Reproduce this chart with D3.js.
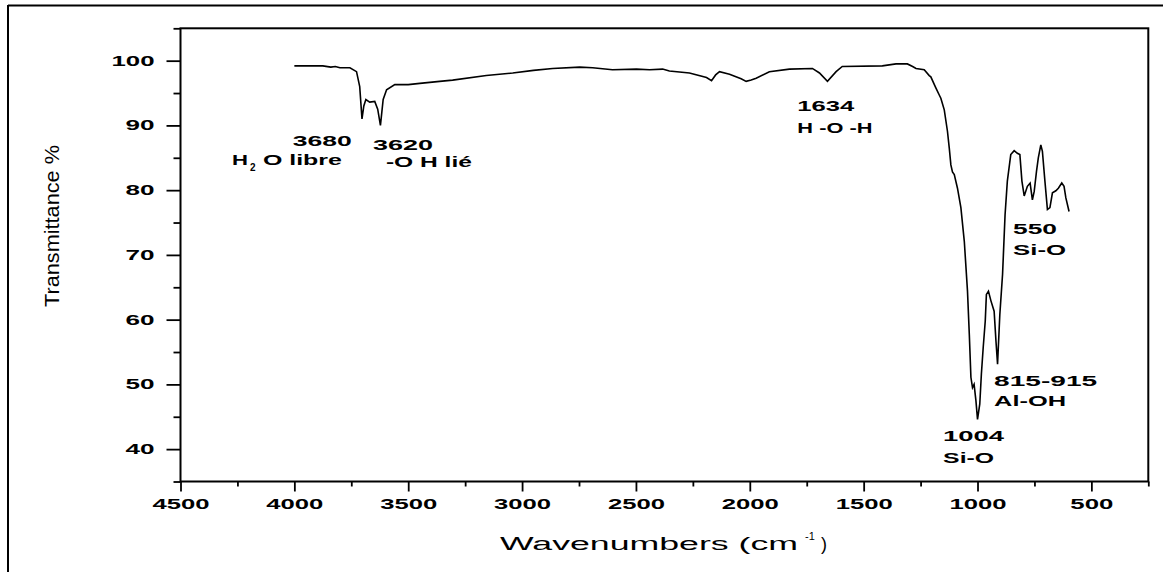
<!DOCTYPE html>
<html><head><meta charset="utf-8">
<script src="https://cdn.jsdelivr.net/npm/d3@7"></script>
<style>
html,body{margin:0;padding:0;background:#fff;}
svg{display:block;}
text{font-family:"Liberation Sans",Arial,sans-serif;fill:#000;}
</style></head>
<body>
<svg id="chart" width="1163" height="572"></svg>
<script>
// ---- data ----
const wavenumbers = [4000,3950,3875,3840,3820,3800,3756,3727,3713,3703,3695,3686,3669,3647,3634,3622,3610,3595,3559,3500,3449,3362,3305,3157,3041,2950,2866,2747,2690,2603,2498,2440,2383,2353,2265,2190,2168,2150,2133,2089,2038,2016,1994,1972,1914,1826,1725,1694,1659,1621,1594,1418,1358,1308,1285,1270,1234,1212,1205,1183,1168,1161,1146,1132,1124,1117,1110,1102,1088,1073,1058,1044,1036,1029,1022,1015,1007,1000,990,983,975,966,961,952,941,927,919,912,902,890,879,869,854,839,825,814,805,795,781,769,759,751,741,733,722,715,704,693,682,671,656,645,630,620,612,598];
const transmittance = [99.2,99.2,99.2,99.0,99.1,98.9,98.9,98.3,96.0,91.0,93.0,94.0,93.6,93.7,92.5,90.0,94.0,95.5,96.3,96.3,96.5,96.8,97.0,97.7,98.1,98.5,98.8,99.0,98.9,98.6,98.7,98.6,98.7,98.4,98.1,97.4,96.9,97.8,98.3,97.9,97.2,96.8,97.0,97.3,98.3,98.7,98.8,98.1,96.8,98.3,99.1,99.2,99.5,99.5,99.1,98.8,98.6,97.7,97.5,95.8,94.7,94.2,92.4,89.1,86.5,83.9,82.8,82.4,80.3,77.3,72.1,64.4,57.7,51.1,49.5,50.0,47.5,44.6,47.0,51.6,55.7,59.8,63.9,64.4,62.9,61.3,56.7,53.1,60.8,67.0,76.2,81.4,85.5,86.1,85.7,85.5,81.4,79.1,80.6,81.1,78.5,79.8,82.9,85.0,87.0,86.0,81.4,77.0,77.3,79.6,79.9,80.3,81.1,80.6,78.8,76.7];

const xTicks = [4500,4000,3500,3000,2500,2000,1500,1000,500];
const xMinorTicks = [4250,3750,3250,2750,2250,1750,1250,750,250];
const yTicks = [40,50,60,70,80,90,100];
const yMinorTicks = [35,45,55,65,75,85,95,105];

// annotation labels and their anchor (wavenumber, transmittance) of text start/baseline
const annotTexts = ["3680","O libre","3620","-O H  lié","1634","H -O -H","550","Si-O","815-915","Al-OH","1004","Si-O"];
const annotWave  = [4007,4138,3655,3598,1791,1791,844,844,927,927,1151,1151];
const annotTrans = [86.8,83.9,86.2,83.6,92.3,88.9,73.2,70.0,49.7,46.6,41.2,37.9];
const annotWidth = [59,79,60,86,57,75,44,53,103,72,61,51];

const xTitle = "Wavenumbers (cm";
const yTitle = "Transmittance %";

// ---- layout ----
const svg = d3.select("#chart");
const L = 180.5, R = 1148.3, T = 28.3, B = 481.5;
const x = d3.scaleLinear().domain([4500, 250]).range([L, R]);
const y = d3.scaleLinear().domain([35, 105]).range([B, T]);

// outer border (partial)
svg.append("line").attr("x1",8).attr("x2",1163).attr("y1",5.5).attr("y2",5.5).attr("stroke","#000").attr("stroke-width",2);
svg.append("line").attr("x1",8).attr("x2",8).attr("y1",5).attr("y2",572).attr("stroke","#000").attr("stroke-width",2);

// plot frame
svg.append("rect").attr("x",L).attr("y",T).attr("width",R-L).attr("height",B-T)
  .attr("fill","none").attr("stroke","#000").attr("stroke-width",2);

const tickW = n => 14*n + 1;

// y axis major
const gy = svg.append("g").attr("transform",`translate(${L},0)`)
  .call(d3.axisLeft(y).tickValues(yTicks).tickSize(14).tickPadding(12).tickFormat(d3.format("d")));
gy.select(".domain").remove();
gy.selectAll("line").attr("stroke","#000").attr("stroke-width",1.8);
gy.selectAll("text").attr("font-size",15).attr("font-weight","bold").attr("dy","0.3em")
  .attr("textLength",d=>tickW(String(d).length)).attr("lengthAdjust","spacingAndGlyphs")
  .style("font-family","'Liberation Sans',Arial,sans-serif");
// y axis minor
const gym = svg.append("g").attr("transform",`translate(${L},0)`)
  .call(d3.axisLeft(y).tickValues(yMinorTicks).tickSize(7).tickFormat(""));
gym.select(".domain").remove();
gym.selectAll("line").attr("stroke","#000").attr("stroke-width",1.8);

// x axis major
const gx = svg.append("g").attr("transform",`translate(0,${B})`)
  .call(d3.axisBottom(x).tickValues(xTicks).tickSize(10).tickFormat(d3.format("d")));
gx.select(".domain").remove();
gx.selectAll("line").attr("stroke","#000").attr("stroke-width",1.8);
gx.selectAll("text").attr("font-size",15).attr("font-weight","bold").attr("dy",null).attr("y",27.5)
  .attr("textLength",d=>tickW(String(d).length)).attr("lengthAdjust","spacingAndGlyphs")
  .style("font-family","'Liberation Sans',Arial,sans-serif");
// x axis minor
const gxm = svg.append("g").attr("transform",`translate(0,${B})`)
  .call(d3.axisBottom(x).tickValues(xMinorTicks).tickSize(5).tickFormat(""));
gxm.select(".domain").remove();
gxm.selectAll("line").attr("stroke","#000").attr("stroke-width",1.8);

// spectrum line
const pts = wavenumbers.map((w,i)=>[w, transmittance[i]]);
svg.append("path").datum(pts)
  .attr("d", d3.line().x(d=>x(d[0])).y(d=>y(d[1])))
  .attr("fill","none").attr("stroke","#000").attr("stroke-width",1.6).attr("stroke-linejoin","miter");

// annotations
annotTexts.forEach((t,i)=>{
  svg.append("text").attr("x",x(annotWave[i])).attr("y",y(annotTrans[i]))
    .attr("font-size",15.5).attr("font-weight","bold")
    .attr("textLength",annotWidth[i]).attr("lengthAdjust","spacingAndGlyphs").text(t);
});
// "H2O" prefix with subscript
const hx = x(4274), hy = y(83.9);
svg.append("text").attr("x",hx).attr("y",hy).attr("font-size",15.5).attr("font-weight","bold")
  .attr("textLength",16).attr("lengthAdjust","spacingAndGlyphs").text("H");
svg.append("text").attr("x",hx+18).attr("y",hy+6).attr("font-size",10).attr("font-weight","bold").text("2");

// axis titles
svg.append("text").attr("x",500).attr("y",550).attr("font-size",18)
  .attr("textLength",298).attr("lengthAdjust","spacingAndGlyphs").text(xTitle);
svg.append("text").attr("x",805).attr("y",540).attr("font-size",11).text("-1");
svg.append("text").attr("x",821).attr("y",550).attr("font-size",18).text(")");

svg.append("text").attr("transform","translate(59,226) rotate(-90)").attr("text-anchor","middle")
  .attr("font-size",21).attr("textLength",162).attr("lengthAdjust","spacingAndGlyphs").text(yTitle);
</script>
</body></html>
